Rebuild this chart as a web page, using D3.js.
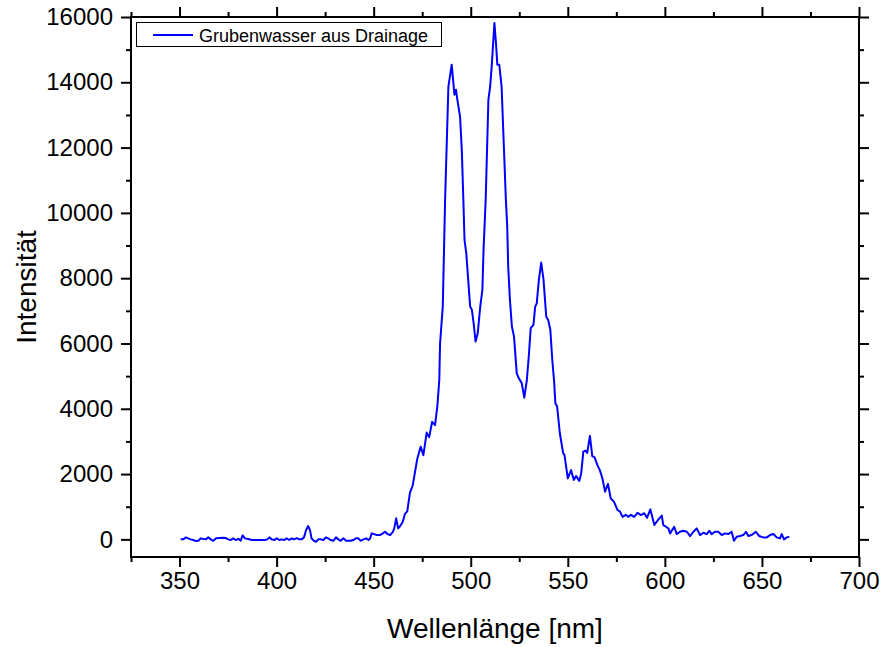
<!DOCTYPE html>
<html lang="en">
<head>
    <meta charset="UTF-8">
    <title>Grubenwasser aus Drainage</title>
    <script src="https://d3js.org/d3.v7.min.js"></script>
    <style>
        body { margin: 0; background: #fff; }
        svg text { font-family: 'Liberation Sans', Arial, sans-serif; fill: black; }
        .tick line { stroke: black; stroke-width: 2; }
        .tick text { font-size: 24px; }
    </style>
</head>
<body>
<svg width="880" height="647"></svg>
<script>
    const wavelength = [
        350.6, 351.9, 353.3, 354.5, 355.7, 357.1, 358.4, 359.7, 360.9, 362.3, 363.5, 364.8, 366.1, 367.4, 368.8,
        370.4, 372.2, 373.9, 375.1, 376.4, 377.7, 379.1, 380.4, 381.5, 382.5, 383.7, 385.4, 387.2, 388.9, 390.6,
        392.3, 394.0, 395.2, 396.3, 397.5, 398.7, 400.1, 401.4, 402.6, 403.8, 405.2, 406.5, 407.8, 408.9, 410.4,
        411.7, 412.9, 414.1, 415.2, 416.3, 417.2, 418.0, 419.2, 420.3, 421.5, 422.7, 424.1, 425.4, 426.6, 427.8,
        429.2, 430.6, 431.8, 433.0, 434.4, 435.8, 436.9, 438.2, 439.5, 440.9, 442.1, 443.3, 444.7, 446.1, 447.3,
        448.1, 449.0, 450.2, 451.6, 453.3, 454.7, 455.9, 457.1, 458.5, 459.9, 460.6, 461.6, 462.6, 463.6, 465.0,
        466.1, 467.3, 468.7, 470.1, 472.5, 474.2, 475.6, 477.3, 478.6, 480.1, 481.6, 482.8, 483.8, 484.2, 485.6,
        486.8, 488.5, 490.2, 491.6, 492.4, 493.1, 494.5, 495.4, 496.2, 496.8, 497.7, 499.7, 500.6, 501.5, 502.5,
        503.6, 504.9, 506.0, 506.6, 507.7, 509.1, 510.0, 510.8, 512.2, 513.0, 513.7, 514.7, 515.9, 518.1, 518.8,
        519.3, 520.2, 521.2, 522.3, 523.7, 524.7, 526.3, 527.6, 528.9, 529.9, 530.9, 532.3, 533.2, 534.0, 535.1,
        536.3, 537.5, 538.9, 539.9, 541.0, 542.0, 542.9, 543.6, 544.5, 545.9, 547.6, 548.3, 550.0, 551.7, 553.1,
        554.3, 555.9, 556.9, 558.0, 559.1, 560.0, 561.4, 562.6, 563.8, 565.2, 566.5, 567.8, 569.2, 570.7, 572.1,
        573.8, 575.6, 576.9, 578.2, 579.9, 581.1, 582.5, 584.2, 585.9, 587.7, 589.4, 590.8, 592.5, 594.6, 596.4,
        598.4, 599.2, 600.6, 601.8, 602.7, 604.8, 606.1, 607.8, 609.5, 611.3, 613.0, 614.7, 616.4, 618.1, 619.8,
        621.6, 622.9, 624.1, 625.8, 627.5, 629.3, 631.0, 632.7, 634.4, 635.6, 637.0, 638.7, 640.4, 641.8, 643.0,
        644.7, 646.9, 648.6, 650.7, 652.5, 654.2, 655.9, 657.6, 659.3, 660.2, 661.4, 662.8, 664.1
    ];
    const intensity = [
        0, 0, 61, 31, 0, -20, -52, -43, 31, 10, 0, 61, 0, -43, 31,
        40, 50, 40, 0, -20, 31, -20, 20, -43, 122, 31, 10, -20, -20, -20,
        -20, -20, 0, 61, 0, -20, 31, -20, 0, -20, 31, -20, 31, 0, 40,
        0, 0, 61, 285, 408, 285, 31, -43, -73, 0, 0, -20, 61, 31, -20,
        -43, 61, 0, -43, 31, -43, -43, -43, -20, 31, 31, -43, 0, 31, -20,
        20, 184, 162, 132, 132, 184, 233, 162, 132, 233, 337, 644, 337, 400, 540,
        780, 860, 1430, 1650, 2480, 2840, 2580, 3270, 3130, 3600, 3500, 4070, 4880, 6000, 7130,
        10400, 13870, 14540, 13620, 13770, 13470, 12950, 11930, 10400, 9170, 8770, 7130, 7030, 6620, 6060,
        6310, 7130, 7640, 8870, 10400, 13470, 13870, 14490, 15820, 15200, 14540, 14540, 13870, 10400, 9580,
        8360, 7330, 6520, 6210, 5090, 4940, 4780, 4340, 4880, 5600, 6470, 6570, 7130, 7230, 7950,
        8480, 7950, 6820, 6720, 6420, 5500, 4880, 4170, 4070, 3250, 2640, 2580, 1870, 2120, 1820,
        1940, 1790, 2020, 2690, 2720, 2650, 3170, 2550, 2510, 2280, 2120, 1870, 1460, 1700, 1260,
        1150, 900, 850, 690, 750, 690, 750, 690, 815, 745, 800, 660, 920, 440, 590,
        730, 438, 386, 337, 184, 386, 162, 233, 264, 233, 101, 233, 337, 132, 202,
        162, 264, 162, 233, 233, 132, 184, 162, 233, -43, 80, 101, 132, 233, 101,
        132, 233, 101, 61, 61, 132, 162, 61, 31, 162, 0, 61, 80
    ];
    const xMajor = [350, 400, 450, 500, 550, 600, 650, 700];
    const xMinor = [325, 375, 425, 475, 525, 575, 625, 675];
    const yMajor = [0, 2000, 4000, 6000, 8000, 10000, 12000, 14000, 16000];
    const yMinor = [1000, 3000, 5000, 7000, 9000, 11000, 13000, 15000];
    const seriesName = 'Grubenwasser aus Drainage';

    const plotL = 131, plotR = 859, plotT = 17, plotB = 557;
    const svg = d3.select("svg");

    const x = d3.scaleLinear().domain([325, 700]).range([plotL, plotR]);
    const y = d3.scaleLinear().domain([-540, 16000]).range([plotB, plotT]);

    function drawAxis(axisFn, scale, values, size, labels, transform) {
        const g = svg.append("g").attr("transform", transform)
            .call(axisFn(scale).tickValues(values).tickSize(size)
                .tickPadding(labels ? (axisFn === d3.axisLeft ? 8 : 5) : 0)
                .tickFormat(labels ? d3.format("d") : ""));
        g.select(".domain").remove();
        return g;
    }

    drawAxis(d3.axisBottom, x, xMajor, 10, true, `translate(0,${plotB})`);
    drawAxis(d3.axisBottom, x, xMinor, 5, false, `translate(0,${plotB})`);
    drawAxis(d3.axisTop, x, xMajor, 10, false, `translate(0,${plotT})`);
    drawAxis(d3.axisTop, x, xMinor, 5, false, `translate(0,${plotT})`);
    drawAxis(d3.axisLeft, y, yMajor, 10, true, `translate(${plotL},0)`);
    drawAxis(d3.axisLeft, y, yMinor, 5, false, `translate(${plotL},0)`);
    drawAxis(d3.axisRight, y, yMajor, 10, false, `translate(${plotR},0)`);
    drawAxis(d3.axisRight, y, yMinor, 5, false, `translate(${plotR},0)`);

    svg.append("rect")
        .attr("x", plotL).attr("y", plotT)
        .attr("width", plotR - plotL).attr("height", plotB - plotT)
        .attr("fill", "none").attr("stroke", "black").attr("stroke-width", 2);

    const line = d3.line()
        .x((d, i) => x(wavelength[i]))
        .y(d => y(d));

    svg.append("path")
        .datum(intensity)
        .attr("fill", "none")
        .attr("stroke", "#0000ff")
        .attr("stroke-width", 2)
        .attr("stroke-linejoin", "round")
        .attr("d", line);

    // legend
    const lg = svg.append("g");
    lg.append("rect")
        .attr("x", 136.5).attr("y", 22.5).attr("width", 305).attr("height", 24)
        .attr("fill", "white").attr("stroke", "black").attr("stroke-width", 1);
    lg.append("line")
        .attr("x1", 153).attr("x2", 193).attr("y1", 35).attr("y2", 35)
        .attr("stroke", "#0000ff").attr("stroke-width", 2);
    lg.append("text")
        .attr("x", 199).attr("y", 41.5)
        .style("font-size", "18px")
        .text(seriesName);

    // axis titles
    svg.append("text")
        .attr("x", (plotL + plotR) / 2).attr("y", 638)
        .attr("text-anchor", "middle")
        .style("font-size", "28px")
        .text("Wellenlänge [nm]");
    svg.append("text")
        .attr("transform", `translate(36,${(plotT + plotB) / 2}) rotate(-90)`)
        .attr("text-anchor", "middle")
        .style("font-size", "28px")
        .text("Intensität");
</script>
</body>
</html>
